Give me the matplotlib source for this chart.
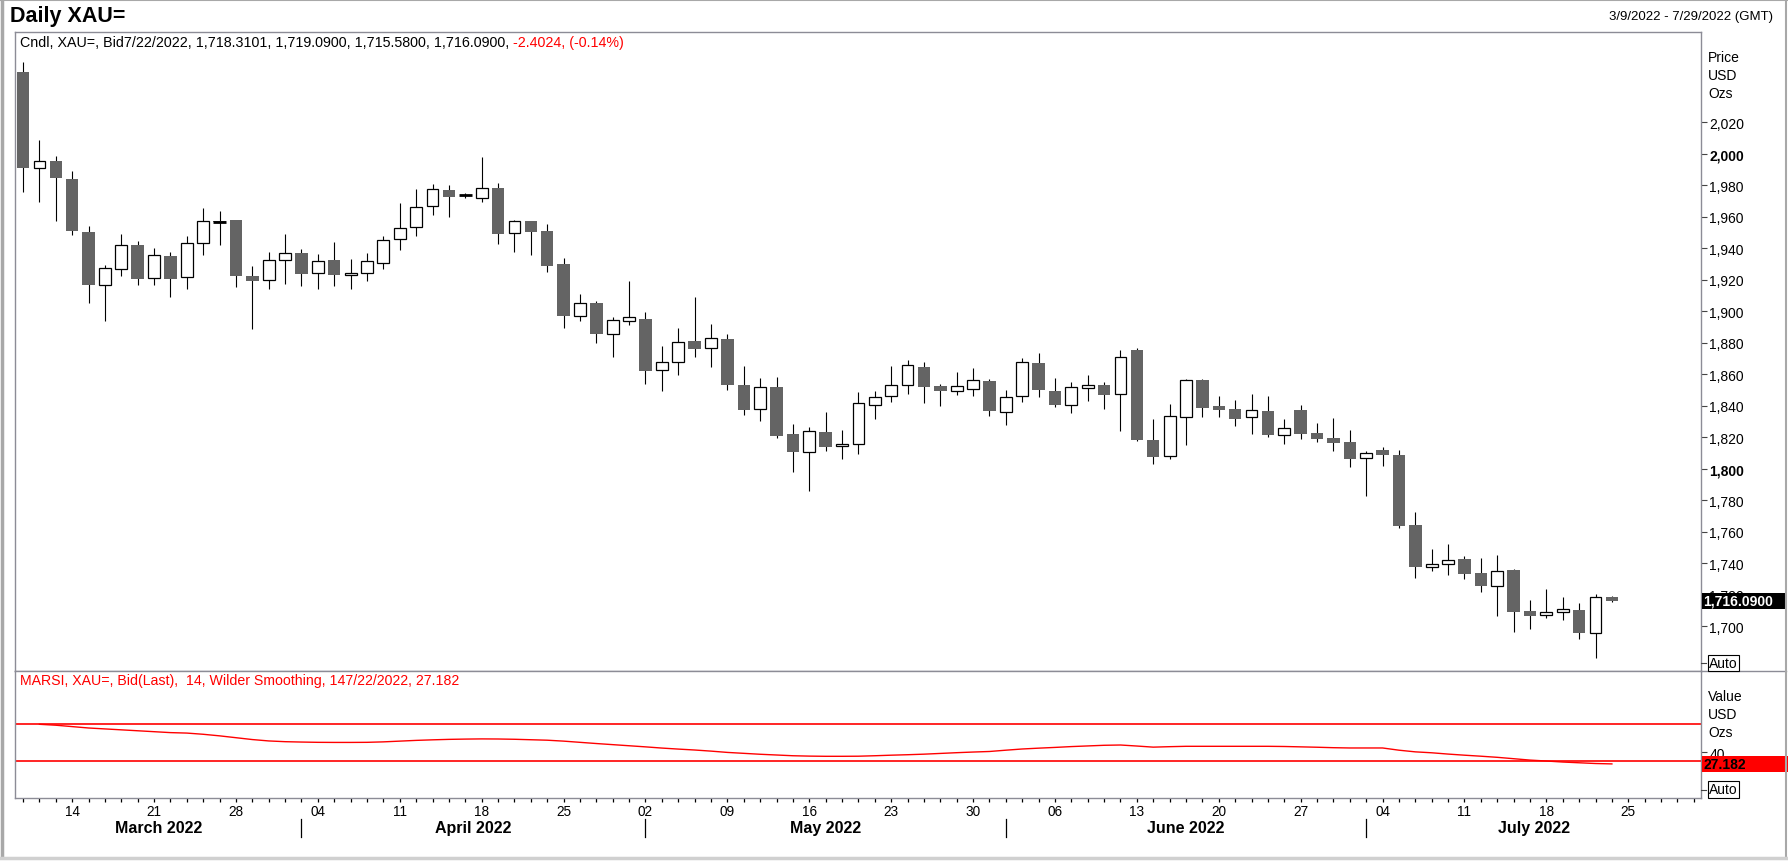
"""
    Daily XAU= candles with MARSI panel
"""

import numpy as np
import pandas as pd
import matplotlib
matplotlib.use('Agg')
import matplotlib.pyplot as plt
import matplotlib.transforms as mtransforms
from matplotlib.patches import Rectangle
from matplotlib.lines import Line2D

plt.rcParams['font.family'] = ['Liberation Sans', 'DejaVu Sans']

# daily bid OHLC, 9 Mar 2022 - 22 Jul 2022 (98 trading days)
opens = [2051.7, 1990.7, 1995.2, 1984.0, 1950.3, 1916.9, 1926.6, 1942.0, 1921.1, 1935.1,
         1921.5, 1943.1, 1957.2, 1957.9, 1922.4, 1919.8, 1932.5, 1937.0, 1924.1, 1932.5,
         1922.8, 1924.5, 1930.8, 1945.6, 1953.2, 1966.6, 1976.9, 1974.0, 1971.6, 1978.2,
         1949.4, 1957.0, 1950.9, 1929.9, 1897.3, 1905.2, 1885.3, 1893.5, 1895.0, 1862.4,
         1867.5, 1881.0, 1876.4, 1882.3, 1853.1, 1837.7, 1851.9, 1822.1, 1810.4, 1823.3,
         1814.2, 1815.5, 1840.7, 1846.0, 1852.9, 1864.6, 1852.5, 1849.1, 1850.4, 1855.7,
         1835.8, 1846.0, 1867.1, 1849.3, 1840.2, 1851.0, 1853.2, 1847.2, 1875.4, 1818.2,
         1807.9, 1832.6, 1856.1, 1839.6, 1837.9, 1832.6, 1836.6, 1821.6, 1837.3, 1822.7,
         1819.5, 1817.0, 1806.6, 1811.9, 1808.7, 1764.3, 1737.8, 1739.3, 1742.7, 1733.8,
         1725.4, 1735.9, 1709.5, 1707.4, 1708.8, 1710.3, 1695.9, 1718.31]
highs = [2058.0, 2008.7, 1998.6, 1988.8, 1954.1, 1929.1, 1949.0, 1944.6, 1940.2, 1937.6,
         1947.8, 1965.5, 1963.4, 1957.9, 1928.7, 1937.6, 1949.0, 1939.5, 1936.3, 1944.0,
         1933.4, 1937.2, 1947.8, 1968.7, 1977.6, 1980.7, 1980.1, 1975.0, 1997.9, 1981.4,
         1958.1, 1957.0, 1955.1, 1933.7, 1910.9, 1906.2, 1896.1, 1919.1, 1899.5, 1877.9,
         1889.3, 1909.0, 1891.8, 1885.5, 1865.2, 1857.6, 1858.2, 1828.4, 1826.5, 1836.0,
         1824.6, 1848.7, 1849.3, 1865.2, 1869.0, 1867.8, 1853.8, 1861.4, 1863.9, 1857.0,
         1850.0, 1870.3, 1873.5, 1857.6, 1855.1, 1859.5, 1855.0, 1875.4, 1876.6, 1831.5,
         1841.0, 1857.0, 1857.0, 1846.0, 1843.4, 1847.4, 1846.2, 1831.5, 1840.6, 1829.0,
         1832.2, 1824.6, 1811.0, 1813.8, 1811.9, 1772.5, 1749.0, 1752.2, 1744.6, 1743.3,
         1745.0, 1736.4, 1716.9, 1723.9, 1718.6, 1714.8, 1720.3, 1719.09]
lows = [1975.5, 1969.6, 1957.5, 1948.6, 1905.4, 1893.9, 1922.4, 1916.9, 1916.9, 1909.2,
        1914.3, 1935.9, 1942.3, 1915.6, 1888.9, 1914.3, 1917.3, 1916.2, 1914.3, 1916.0,
        1914.3, 1919.0, 1926.6, 1939.0, 1947.9, 1961.3, 1960.0, 1971.6, 1969.5, 1942.8,
        1937.8, 1935.9, 1925.1, 1889.5, 1894.0, 1880.0, 1871.1, 1891.0, 1853.7, 1849.5,
        1859.7, 1871.1, 1864.8, 1850.1, 1834.3, 1830.5, 1819.7, 1798.2, 1786.1, 1811.5,
        1806.2, 1809.6, 1831.8, 1842.6, 1847.6, 1841.9, 1840.0, 1847.0, 1846.2, 1833.5,
        1827.5, 1842.6, 1845.7, 1839.4, 1835.6, 1843.2, 1838.1, 1824.2, 1817.8, 1803.2,
        1806.4, 1815.3, 1833.0, 1833.0, 1827.1, 1822.0, 1820.1, 1815.7, 1819.0, 1817.2,
        1811.2, 1801.3, 1782.9, 1802.0, 1762.6, 1730.8, 1735.3, 1732.8, 1730.2, 1722.0,
        1706.7, 1696.6, 1698.3, 1705.0, 1704.2, 1692.1, 1680.1, 1715.58]
closes = [1990.7, 1995.2, 1984.8, 1950.7, 1916.9, 1927.5, 1941.8, 1920.7, 1935.5, 1920.7,
          1943.1, 1957.1, 1956.6, 1922.4, 1919.0, 1932.5, 1936.8, 1923.9, 1931.7, 1923.2,
          1924.5, 1931.7, 1945.2, 1952.6, 1965.9, 1977.3, 1972.7, 1973.5, 1978.0, 1949.2,
          1957.0, 1950.5, 1928.9, 1897.1, 1905.0, 1885.7, 1894.2, 1896.1, 1862.2, 1867.5,
          1880.2, 1876.2, 1882.7, 1853.3, 1837.5, 1851.7, 1821.0, 1810.9, 1823.8, 1814.0,
          1815.5, 1841.5, 1845.3, 1852.9, 1865.6, 1852.1, 1849.5, 1852.3, 1856.1, 1836.9,
          1845.3, 1867.8, 1850.2, 1840.7, 1851.7, 1852.9, 1847.0, 1870.7, 1818.4, 1807.6,
          1833.2, 1856.1, 1838.8, 1837.5, 1831.8, 1837.3, 1821.6, 1825.6, 1822.0, 1818.9,
          1816.5, 1806.4, 1809.8, 1808.9, 1763.9, 1737.8, 1739.3, 1742.3, 1733.4, 1725.8,
          1735.1, 1709.3, 1706.7, 1708.8, 1710.7, 1695.9, 1718.4, 1716.09]

# MARSI(14), one value per candle
rsi = [np.nan, 70.0, 69.0, 67.5, 66.0, 65.0, 64.0, 63.0, 62.0, 61.0,
       60.5, 59.2, 57.5, 55.5, 53.5, 52.0, 51.2, 50.8, 50.5, 50.4,
       50.4, 50.5, 51.0, 51.8, 52.6, 53.2, 53.7, 54.0, 54.2, 54.1,
       53.8, 53.3, 52.8, 51.8, 50.5, 49.2, 48.0, 46.8, 45.6, 44.3,
       43.2, 42.2, 41.0, 39.6, 38.6, 37.6, 36.8, 36.0, 35.6, 35.4,
       35.4, 35.5, 36.0, 36.6, 37.1, 37.7, 38.5, 39.3, 40.0, 40.6,
       42.0, 43.3, 44.2, 45.0, 45.9, 46.6, 47.3, 47.6, 46.5, 45.3,
       45.8, 46.2, 46.2, 46.2, 46.2, 46.2, 46.2, 46.0, 45.6, 45.2,
       44.7, 44.4, 44.4, 44.4, 42.0, 40.2, 39.2, 37.8, 36.6, 35.5,
       34.3, 32.8, 31.3, 30.3, 29.2, 28.4, 27.6, 27.182]

price_ticks = list(range(1700, 2021, 20))
dates = pd.bdate_range('2022-03-09', '2022-07-29')   # axis runs to 29 Jul

W, H = 1788, 862
def fx(px):
    return px / W
def fy(py):
    return 1 - py / H

L, R = 15, 1701
TOP, MID, BOT = 33.3, 672, 799.3
frame_col = '#8c8c96'

fig = plt.figure(figsize=(W / 100, H / 100), dpi=100)
fig.patch.set_facecolor('white')
ax = fig.add_axes([fx(L), fy(MID), fx(R) - fx(L), (MID - TOP) / H])
ax2 = fig.add_axes([fx(L), fy(BOT), fx(R) - fx(L), (BOT - MID) / H], sharex=ax)

o = np.array(opens); h = np.array(highs); l = np.array(lows); c = np.array(closes)
x = np.arange(len(c))
up = c > o
body_lo = np.minimum(o, c)
body_h = np.abs(c - o)

# candles
ax.vlines(x, l, h, color='black', lw=0.8, zorder=1)
ax.bar(x[~up], body_h[~up], bottom=body_lo[~up], width=0.76, color='#646464', zorder=2)
ax.bar(x[up], body_h[up], bottom=body_lo[up], width=0.72, color='white',
       edgecolor='black', lw=0.9, zorder=2)
doji = body_h < 1.0
ax.hlines(c[doji], x[doji] - 0.38, x[doji] + 0.38, color='black', lw=2, zorder=3)

ax.set_xlim(-0.49, 102.44)
ax.set_ylim(1671.6, 2077.1)
ax.yaxis.tick_right()
ax.set_yticks(price_ticks)
ax.set_yticklabels([f'{v:,}' for v in price_ticks])
for lab, v in zip(ax.get_yticklabels(), price_ticks):
    if v % 200 == 0:
        lab.set_fontweight('bold')
ax.tick_params(axis='y', direction='out', length=4, width=0.8, color='#444444',
               labelsize=10, pad=2)
ax.tick_params(axis='x', bottom=False, labelbottom=False)

# RSI panel
ax2.plot(x, rsi, color='red', lw=1.0)
ax2.axhline(70, color='red', lw=1.2)
ax2.axhline(30, color='red', lw=1.2)
ax2.set_ylim(-10, 127.6)
ax2.yaxis.tick_right()
ax2.set_yticks([40])
ax2.set_yticklabels(['40'])
ax2.tick_params(axis='y', direction='out', length=4, width=0.8, color='#444444',
                labelsize=10, pad=2)

mondays = [i for i, d in enumerate(dates) if d.weekday() == 0]
ax2.set_xticks(mondays)
ax2.set_xticklabels([f'{dates[i].day:02d}' for i in mondays])
ax2.set_xticks(range(len(dates)), minor=True)
ax2.tick_params(axis='x', which='both', direction='out', length=2.6, width=0.9,
                color='black', labelsize=9.8, pad=1.5)

for a in (ax, ax2):
    for s in a.spines.values():
        s.set_color(frame_col)
        s.set_linewidth(1.0)

# month labels and separators under the axis
blend = mtransforms.blended_transform_factory(ax2.transData, fig.transFigure)
months = pd.Series(range(len(dates)), index=dates)
starts = [grp.iloc[0] for _, grp in months.groupby([dates.year, dates.month])]
ends = starts[1:] + [102.44]
first_left = -0.49
for k, (s0, s1) in enumerate(zip(starts, ends)):
    left = first_left if k == 0 else s0
    fig.text((left + s1) / 2, fy(828.3), dates[s0].strftime('%B %Y'),
             transform=blend, ha='center', va='center', fontsize=11.5, fontweight='bold')
    if k > 0:
        fig.add_artist(Line2D([s0, s0], [fy(820), fy(838)], transform=blend,
                              color='black', lw=0.9))

# header texts
fig.text(fx(10), fy(16.7), 'Daily XAU=', fontsize=15.5, fontweight='bold', va='center')
fig.text(fx(1773), fy(16.7), '3/9/2022 - 7/29/2022 (GMT)', fontsize=9.5,
         ha='right', va='center')
t = fig.text(fx(20), fy(43.3),
             'Cndl, XAU=, Bid7/22/2022, 1,718.3101, 1,719.0900, 1,715.5800, 1,716.0900, ',
             fontsize=10.3, va='center')
ax.annotate('-2.4024, (-0.14%)', xy=(1, 0.5), xycoords=t, ha='left', va='center',
            fontsize=10.3, color='red', annotation_clip=False)
fig.text(fx(20), fy(681), 'MARSI, XAU=, Bid(Last),  14, Wilder Smoothing, 147/22/2022, 27.182',
         fontsize=10.2, color='red', va='center')

# right-hand labels
for txt, py in zip(['Price', 'USD', 'Ozs'], [58, 76, 94]):
    fig.text(fx(1708), fy(py), txt, fontsize=10, va='center')
for txt, py in zip(['Value', 'USD', 'Ozs'], [697, 715, 733]):
    fig.text(fx(1708), fy(py), txt, fontsize=10, va='center')

# last price / last RSI boxes
bp = mtransforms.blended_transform_factory(fig.transFigure, ax.transData)
fig.add_artist(Rectangle((fx(1701.5), c[-1] - 5.1), fx(1786) - fx(1701.5), 10.2,
                         transform=bp, fc='black', ec='none'))
fig.text(fx(1703), c[-1], f'{c[-1]:,.4f}', transform=bp, color='white',
         fontsize=10, fontweight='bold', va='center', ha='left')
br = mtransforms.blended_transform_factory(fig.transFigure, ax2.transData)
fig.add_artist(Rectangle((fx(1701.5), rsi[-1] - 8.6), fx(1788) - fx(1701.5), 17.2,
                         transform=br, fc='red', ec='none'))
fig.text(fx(1703), rsi[-1], f'{rsi[-1]:.3f}', transform=br, color='black',
         fontsize=10, fontweight='bold', va='center', ha='left')

# "Auto" markers
for py in (664, 790.5):
    fig.add_artist(Line2D([fx(1701), fx(1706)], [fy(py), fy(py)], color='#444444', lw=0.8))
    fig.text(fx(1709), fy(py), 'Auto', fontsize=10, va='center',
             bbox=dict(boxstyle='square,pad=0.08', fc='white', ec='black', lw=0.8))

# outer frame and divider through the label column
fig.add_artist(Line2D([fx(R), fx(1786)], [fy(MID), fy(MID)], color=frame_col, lw=1.0))
fig.add_artist(Line2D([fx(1786), fx(1786)], [fy(0), fy(857)], color='#a8a8a8', lw=1.5))
fig.add_artist(Line2D([fx(1.5), fx(1.5)], [fy(0), fy(857)], color='#a8a8a8', lw=2.5))
fig.add_artist(Line2D([fx(0), fx(1788)], [fy(858.5), fy(858.5)], color='#d0d0d0', lw=2.5))
fig.add_artist(Line2D([fx(0), fx(1788)], [fy(0.5), fy(0.5)], color='#a8a8a8', lw=1.5))

fig.savefig('out.png', dpi=100)
